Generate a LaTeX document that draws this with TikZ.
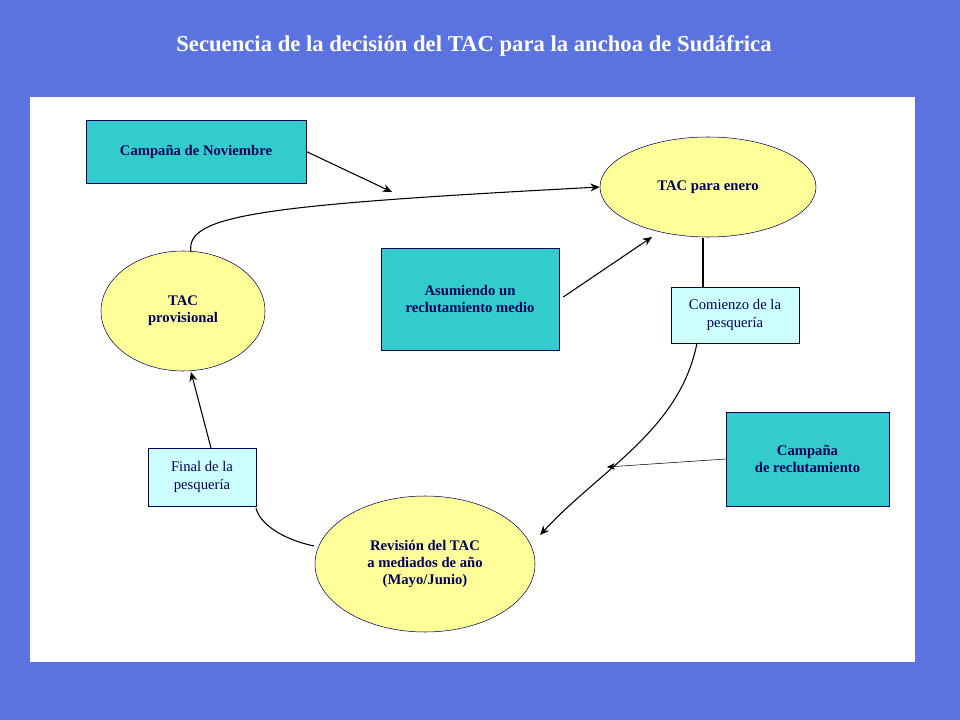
\documentclass[tikz,border=0pt]{standalone}
\usepackage{fontspec}
\setmainfont{Liberation Serif}
\usetikzlibrary{shapes.geometric,arrows.meta}
\definecolor{bg}{RGB}{91,115,222}
\definecolor{tealc}{RGB}{51,204,204}
\definecolor{yel}{RGB}{255,255,153}
\definecolor{lcy}{RGB}{204,255,255}
\definecolor{ink}{RGB}{0,0,90}
\tikzset{
 dark/.style={draw=ink,fill=tealc,font=\bfseries\fontsize{11}{13}\selectfont,text=ink,align=center,inner sep=0pt},
 lite/.style={draw=ink,fill=lcy,font=\fontsize{11}{13}\selectfont,text=ink,align=center,inner sep=0pt},
 ell/.style={draw=ink,fill=yel,ellipse,font=\bfseries\fontsize{11}{13}\selectfont,text=ink,align=center,inner sep=0pt},
 con/.style={black,thick},
 arr/.style={black,thick,-{Stealth[length=7pt,width=6pt]}},
}
\begin{document}
\begin{tikzpicture}[x=0.75pt,y=-0.75pt]
\fill[bg] (0,0) rectangle (960,720);
\fill[white] (30,97) rectangle (915,662);
\node[text=white,font=\bfseries\fontsize{17}{20}\selectfont] (title) at (474,46) {Secuencia de la decisión del TAC para la anchoa de Sudáfrica};
\node[dark,minimum width=165pt,minimum height=47pt] (nov) at (196,151.5) {Campaña de Noviembre};
\node[ell,minimum width=162pt,minimum height=75pt] (ene) at (708,187) {TAC para enero};
\node[ell,minimum width=123pt,minimum height=90pt] (prov) at (183,311) {TAC\\provisional};
\node[dark,minimum width=133.5pt,minimum height=76.5pt] (asu) at (470,299) {Asumiendo un\\reclutamiento medio};
\node[lite,minimum width=96pt,minimum height=42pt] (com) at (735,315) {Comienzo de la\\pesquería};
\node[dark,minimum width=122pt,minimum height=70.5pt] (rec) at (807.5,459) {Campaña\\de reclutamiento};
\node[lite,minimum width=81pt,minimum height=43.5pt] (fin) at (202,477) {Final de la\\pesquería};
\node[ell,minimum width=165pt,minimum height=102pt] (rev) at (425,564) {Revisión del TAC\\a mediados de año\\(Mayo/Junio)};
\coordinate (a1) at (392,192);
\coordinate (r1) at (607,467);
\draw[arr] (nov.east) -- (a1);
\draw[arr] (191,252) .. controls (185,215) and (260,205) .. (ene.west);
\draw[arr] (asu.east) ++(4,-2) -- (652,237);
\draw[con] (703,238) -- (com.north -| 703,0);
\draw[arr] (697,343) .. controls (680,430) and (600,470) .. (540,535);
\draw[black,-{Stealth[length=6pt,width=5pt]}] (rec.west) -- (r1);
\draw[con] (314,546) .. controls (285,540) and (260,525) .. (256,508);
\draw[arr] (211,448) -- (191,372);
\end{tikzpicture}
\end{document}
